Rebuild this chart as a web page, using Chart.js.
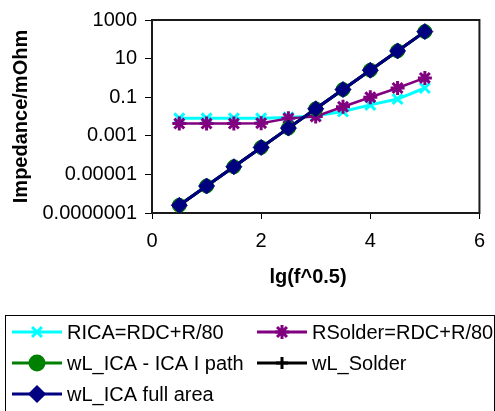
<!DOCTYPE html>
<html>
<head>
<meta charset="utf-8">
<script src="https://cdn.jsdelivr.net/npm/chart.js@4.4.1/dist/chart.umd.min.js"></script>
<style>
    html, body { margin: 0; padding: 0; background: #fff; }
    #chart-wrap { width: 495px; height: 411px; }
</style>
</head>
<body>
<div id="chart-wrap"><canvas id="impedance-chart" width="495" height="411"></canvas></div>
<script>
// x = lg(f^0.5)
const xValues = [0.5, 1, 1.5, 2, 2.5, 3, 3.5, 4, 4.5, 5];

// impedance in mOhm
const ricaValues = [0.008, 0.008, 0.008, 0.008, 0.009, 0.011, 0.018, 0.04, 0.08, 0.3];
const rsolderValues = [0.0043, 0.0043, 0.0043, 0.0045, 0.008, 0.01, 0.032, 0.1, 0.3, 1.0];
const wlIcaPathValues = [0.00000025, 0.0000025, 0.000025, 0.00025, 0.0025, 0.025, 0.25, 2.5, 25, 250];
const wlSolderValues = [0.00000025, 0.0000025, 0.000025, 0.00025, 0.0025, 0.025, 0.25, 2.5, 25, 250];
const wlIcaFullValues = [0.00000025, 0.0000025, 0.000025, 0.00025, 0.0025, 0.025, 0.25, 2.5, 25, 250];

const seriesNames = ['RICA=RDC+R/80', 'RSolder=RDC+R/80', 'wL_ICA - ICA I path', 'wL_Solder', 'wL_ICA full area'];

const yTickValues = [0.0000001, 0.00001, 0.001, 0.1, 10, 1000];
const yTickLabels = ['0.0000001', '0.00001', '0.001', '0.1', '10', '1000'];
const xTickValues = [0, 2, 4, 6];

const yTitle = 'Impedance/mOhm';
const xTitle = 'lg(f^0.5)';

const FONT = "'Liberation Sans', Arial, sans-serif";

function toPoints(values){
    return xValues.map((x, i) => ({x: x, y: values[i]}));
}

const datasets = [
    {
        label: seriesNames[0],
        data: toPoints(ricaValues),
        borderColor: '#00ffff',
        backgroundColor: '#00ffff',
        borderWidth: 3,
        pointStyle: 'crossRot',
        pointRadius: 7,
        pointBorderWidth: 3,
        order: 4
    },
    {
        label: seriesNames[1],
        data: toPoints(rsolderValues),
        borderColor: '#800080',
        backgroundColor: '#800080',
        borderWidth: 2.5,
        pointStyle: 'star',
        pointRadius: 7,
        pointBorderWidth: 3,
        order: 3
    },
    {
        label: seriesNames[2],
        data: toPoints(wlIcaPathValues),
        borderColor: '#008000',
        backgroundColor: '#008000',
        borderWidth: 3,
        pointStyle: 'circle',
        pointRadius: 7,
        pointBorderWidth: 1,
        order: 2
    },
    {
        label: seriesNames[3],
        data: toPoints(wlSolderValues),
        borderColor: '#000000',
        backgroundColor: '#000000',
        borderWidth: 3,
        pointStyle: 'cross',
        pointRadius: 6,
        pointBorderWidth: 2,
        order: 1
    },
    {
        label: seriesNames[4],
        data: toPoints(wlIcaFullValues),
        borderColor: '#000080',
        backgroundColor: '#000080',
        borderWidth: 3,
        pointStyle: 'rectRot',
        pointRadius: 8,
        pointBorderWidth: 1,
        order: 0
    }
];

// frame round the plot area, x title and the boxed legend below
const excelBits = {
    id: 'excelBits',
    beforeDatasetsDraw: function(chart){
        const {ctx, chartArea} = chart;
        ctx.save();
        ctx.strokeStyle = '#1a1a1a';
        ctx.lineWidth = 2;
        ctx.strokeRect(chartArea.left, chartArea.top, chartArea.right - chartArea.left, chartArea.bottom - chartArea.top);
        ctx.restore();
    },
    afterDraw: function(chart){
        const ctx = chart.ctx;
        ctx.save();

        // x axis title
        ctx.fillStyle = '#000';
        ctx.font = 'bold 20px ' + FONT;
        ctx.textAlign = 'center';
        ctx.textBaseline = 'middle';
        ctx.fillText(xTitle, 308, 277);

        // legend box
        ctx.strokeStyle = '#000';
        ctx.lineWidth = 1;
        ctx.strokeRect(5.5, 315.5, 489, 110);

        const slots = [
            {x: 12, y: 332},
            {x: 257, y: 332},
            {x: 12, y: 363},
            {x: 257, y: 363},
            {x: 12, y: 394}
        ];
        const legendRadius = [7, 7, 7, 6, 7];
        chart.data.datasets.forEach((ds, i) => {
            const s = slots[i];
            ctx.strokeStyle = ds.borderColor;
            ctx.fillStyle = ds.backgroundColor;
            ctx.lineWidth = 3;
            ctx.beginPath();
            ctx.moveTo(s.x, s.y);
            ctx.lineTo(s.x + 50, s.y);
            ctx.stroke();
            Chart.helpers.drawPoint(ctx, {
                pointStyle: ds.pointStyle,
                radius: legendRadius[i],
                borderWidth: ds.pointBorderWidth,
                rotation: 0
            }, s.x + 25, s.y);

            ctx.fillStyle = '#000';
            ctx.font = '20px ' + FONT;
            ctx.textAlign = 'left';
            ctx.textBaseline = 'middle';
            ctx.fillText(ds.label, s.x + 55, s.y + 1);
        });
        ctx.restore();
    }
};

const ctx = document.querySelector('#impedance-chart').getContext('2d');

const impedanceChart = new Chart(ctx, {
    type: 'line',
    data: { datasets: datasets },
    plugins: [excelBits],
    options: {
        responsive: false,
        animation: false,
        devicePixelRatio: 1,
        layout: {
            padding: { top: 17, right: 7, bottom: 0, left: 0 }
        },
        plugins: {
            legend: { display: false },
            tooltip: { enabled: false }
        },
        scales: {
            x: {
                type: 'linear',
                min: 0,
                max: 6,
                afterBuildTicks: function(scale){
                    scale.ticks = xTickValues.map(v => ({value: v}));
                },
                afterFit: function(scale){
                    scale.height = 198;
                },
                border: { display: true, color: '#000', width: 2 },
                grid: {
                    drawOnChartArea: false,
                    drawTicks: true,
                    tickLength: 6,
                    color: '#000',
                    tickWidth: 1
                },
                ticks: {
                    color: '#000',
                    padding: 10,
                    maxRotation: 0,
                    font: { family: FONT, size: 20 }
                }
            },
            y: {
                type: 'logarithmic',
                min: 0.0000001,
                max: 1000,
                afterBuildTicks: function(scale){
                    scale.ticks = yTickValues.map(v => ({value: v}));
                },
                afterFit: function(scale){
                    scale.width = 152;
                },
                border: { display: true, color: '#000', width: 2 },
                grid: {
                    drawOnChartArea: false,
                    drawTicks: true,
                    tickLength: 7,
                    color: '#000',
                    tickWidth: 1
                },
                ticks: {
                    color: '#000',
                    padding: 8,
                    font: { family: FONT, size: 20 },
                    callback: function(value){
                        const idx = yTickValues.findIndex(v => Math.abs(v - value) / v < 1e-6);
                        return idx >= 0 ? yTickLabels[idx] : '';
                    }
                },
                title: {
                    display: true,
                    text: yTitle,
                    color: '#000',
                    font: { family: FONT, size: 20, weight: 'bold' },
                    padding: { top: 9, bottom: 0 }
                }
            }
        }
    }
});
</script>
</body>
</html>
